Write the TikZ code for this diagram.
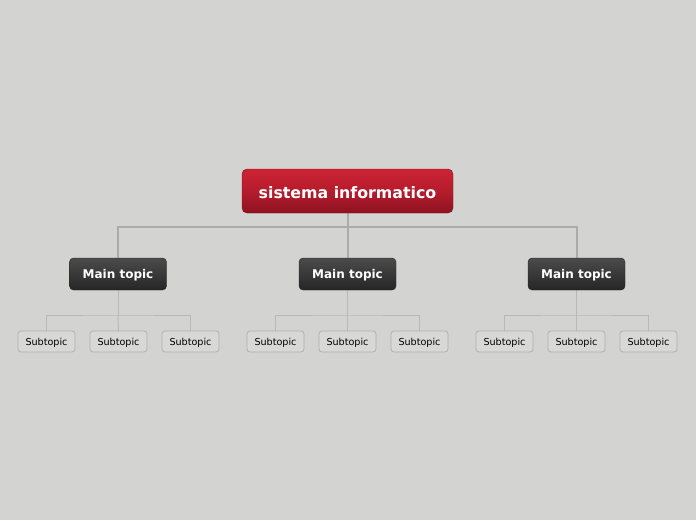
\documentclass[tikz,border=0pt]{standalone}
\usepackage{fontspec}
\setmainfont{DejaVu Sans}
\newcommand\lowtxt[2]{\raisebox{-#1}[\height][\depth]{#2}}
\begin{document}
\begin{tikzpicture}[x=1pt,y=-1pt,
  rootbox/.style={rounded corners=5pt, minimum width=211pt, minimum height=44pt, inner sep=0pt,
    top color=rootTop, bottom color=rootBot, middle color=rootMid, draw=rootBot!90!black, line width=0.4pt,
    text=white, font=\bfseries\fontsize{15.8}{18}\selectfont},
  mainbox/.style={rounded corners=4pt, minimum width=97pt, minimum height=32pt, inner sep=0pt,
    top color=mainTop, bottom color=mainBot, draw=mainBot, line width=0.4pt,
    text=white, font=\bfseries\fontsize{12}{14}\selectfont},
  subbox/.style={rounded corners=3pt, minimum width=57pt, minimum height=21pt, inner sep=0pt,
    fill=subFill, draw=subLine, line width=0.8pt, text=black, font=\fontsize{9.6}{11}\selectfont},
  thick link/.style={draw=linkCol, line width=2pt},
  thin link/.style={draw=linkCol!85!white, line width=1pt}
]
\definecolor{bg}{HTML}{D3D4D1}
\definecolor{rootTop}{HTML}{CC2334}
\definecolor{rootMid}{HTML}{B51C2C}
\definecolor{rootBot}{HTML}{8E1121}
\definecolor{mainTop}{HTML}{4B4B4B}
\definecolor{mainBot}{HTML}{262626}
\definecolor{subFill}{HTML}{D8D9D6}
\definecolor{subLine}{HTML}{B0B1AE}
\definecolor{linkCol}{HTML}{ABACA9}
\fill[bg] (0,0) rectangle (696,520);
\useasboundingbox (0,0) rectangle (696,520);

\coordinate (rj) at (347.5,227);
\draw[thick link] (347.5,200) -- (rj);
\draw[thick link] (118,260) |- (rj) -| (576.5,260);
\draw[thick link] (rj) -- (347.5,260);
\node[rootbox] (root) at (347.5,191) {\lowtxt{1.8pt}{sistema informatico}};

\foreach \m/\x/\a/\b/\c in {m1/118/46.5/118.5/190.5, m2/347.5/275.5/347.5/419.5, m3/576.5/504.5/576.5/648.5}{
  \coordinate (\m j) at (\x,315);
  \draw[thin link] (\x,280) -- (\m j);
  \draw[thin link] (\a,333) |- (\m j) -| (\c,333);
  \draw[thin link] (\m j) -- (\b,333);
  \node[mainbox] (\m) at (\x,274) {\lowtxt{1.6pt}{Main topic}};
  \node[subbox] (\m a) at (\a,341.5) {\lowtxt{1.3pt}{Subtopic}};
  \node[subbox] (\m b) at (\b,341.5) {\lowtxt{1.3pt}{Subtopic}};
  \node[subbox] (\m c) at (\c,341.5) {\lowtxt{1.3pt}{Subtopic}};
}
\end{tikzpicture}
\end{document}
